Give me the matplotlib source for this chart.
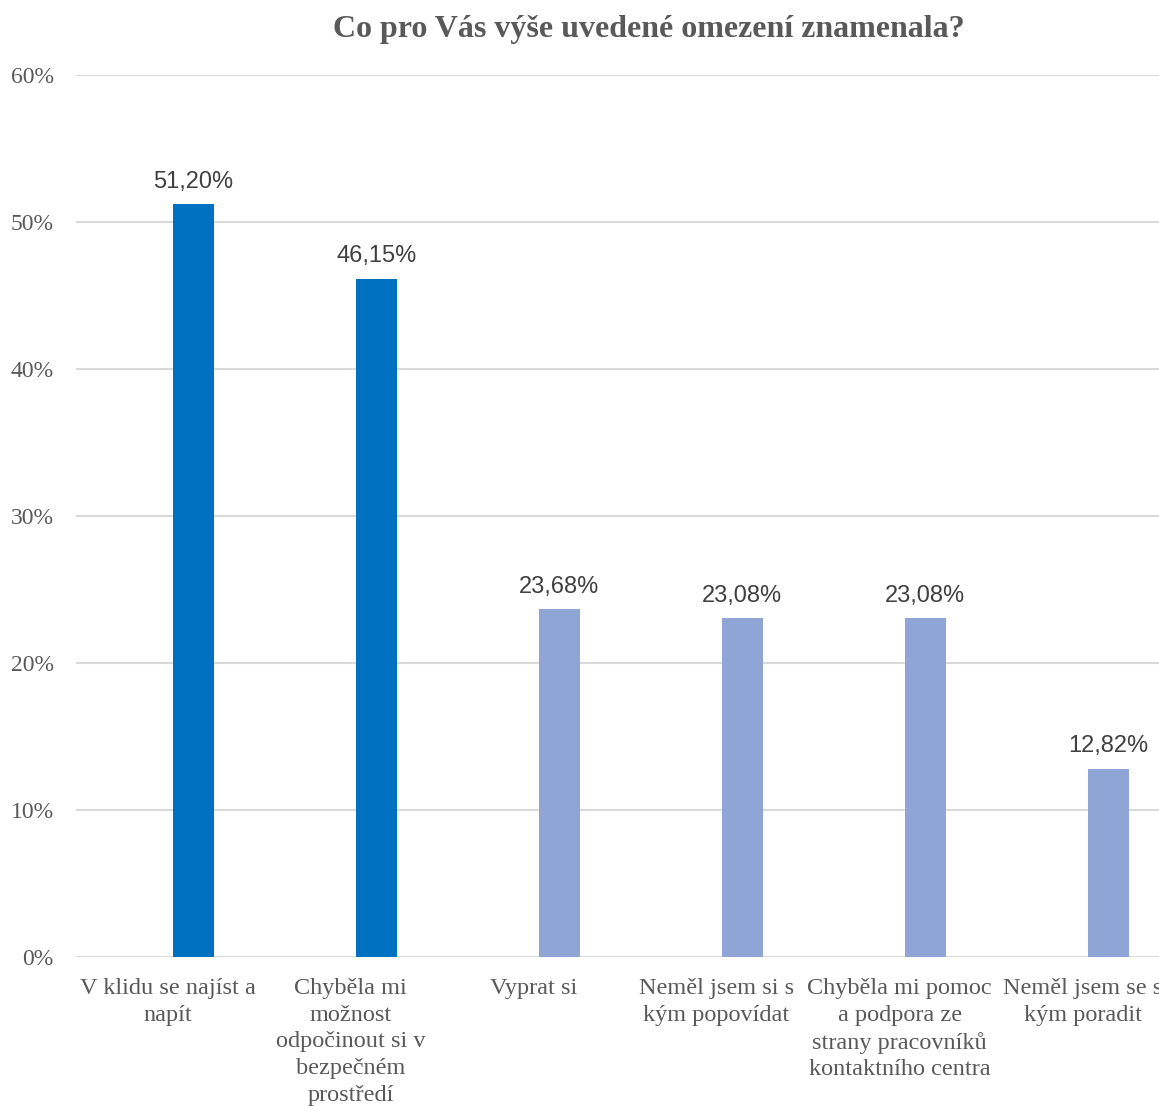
import matplotlib
matplotlib.use("Agg")
import matplotlib.pyplot as plt
from matplotlib.ticker import FuncFormatter

categories = [
    "V klidu se najíst a\nnapít",
    "Chyběla mi\nmožnost\nodpočinout si v\nbezpečném\nprostředí",
    "Vyprat si",
    "Neměl jsem si s\nkým popovídat",
    "Chyběla mi pomoc\na podpora ze\nstrany pracovníků\nkontaktního centra",
    "Neměl jsem se s\nkým poradit",
]
values = [51.20, 46.15, 23.68, 23.08, 23.08, 12.82]
value_labels = ["51,20%", "46,15%", "23,68%", "23,08%", "23,08%", "12,82%"]
y_ticks = [0, 10, 20, 30, 40, 50, 60]
title = "Co pro Vás výše uvedené omezení znamenala?"

W, H, DPI = 1159, 1106, 100
fig = plt.figure(figsize=(W / DPI, H / DPI), dpi=DPI)
fig.patch.set_facecolor("white")

ax = fig.add_axes([76 / W, (H - 957) / H, 1 - 76 / W, (957 - 75) / H])

dark = "#0070C0"
light = "#8FA5D5"
colors = [dark if i < 2 else light for i in range(len(values))]
x = list(range(len(values)))
# bars sit right of the category centre (second, empty series slot)
bar_offset = 0.14
bx = [xi + bar_offset for xi in x]

ax.bar(bx, values, width=0.225, color=colors, zorder=3)

for xi, v, lab in zip(bx, values, value_labels):
    ax.annotate(lab, (xi, v), xytext=(0, 8), textcoords="offset points",
                ha="center", va="bottom", fontsize=17,
                family="Liberation Sans", color="#404040", zorder=4)

ax.set_ylim(0, 60)
ax.set_xlim(-0.5, (W - 75.5) / 183.1 - 0.5)
ax.set_yticks(y_ticks)
ax.yaxis.set_major_formatter(FuncFormatter(lambda v, p: f"{int(round(v))}%"))
ax.grid(axis="y", color="#D9D9D9", linewidth=1.5, zorder=0)
ax.set_axisbelow(True)

ax.set_xticks(x)
ax.set_xticklabels(categories, family="Liberation Serif", fontsize=17.5,
                   color="#595959", linespacing=1.36, va="top")
for t in ax.get_yticklabels():
    t.set_family("Liberation Serif")
    t.set_fontsize(17)
    t.set_color("#595959")

ax.tick_params(axis="both", length=0)
ax.tick_params(axis="y", pad=16)
ax.tick_params(axis="x", pad=15)
for s in ax.spines.values():
    s.set_visible(False)

fig.text(649 / W, 1 - 29 / H, title, ha="center", va="center",
         family="Liberation Serif", fontweight="bold", fontsize=23,
         color="#595959")

fig.savefig("out.png", dpi=DPI)
